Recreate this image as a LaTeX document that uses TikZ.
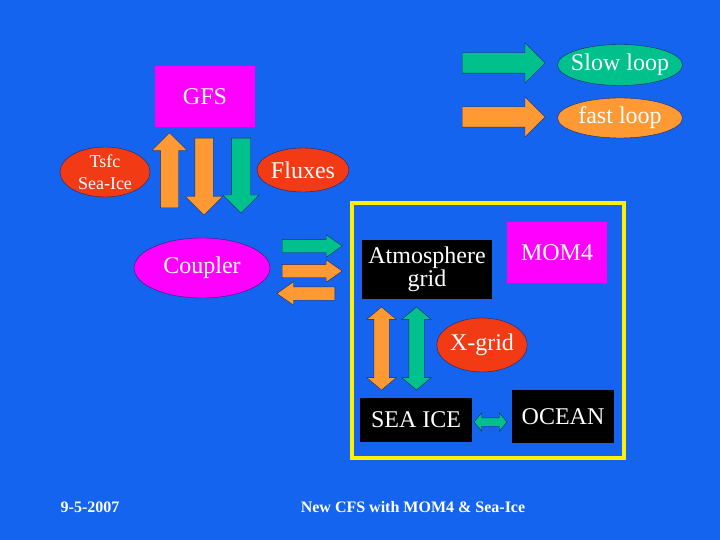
\documentclass[tikz,border=0pt]{standalone}
\usepackage{fontspec}
\setmainfont{Liberation Serif}
\usetikzlibrary{shapes.geometric,shapes.arrows}
\definecolor{Slide}{HTML}{1464F0}
\definecolor{Magenta}{HTML}{FF00FF}
\definecolor{Teal}{HTML}{00C08C}
\definecolor{Amber}{HTML}{FF9933}
\definecolor{Scarlet}{HTML}{F23A14}
\definecolor{Edge}{HTML}{1A2A60}

\begin{document}
\begin{tikzpicture}[x=1pt,y=-1pt,
  big/.style={font=\fontsize{24}{21}\selectfont},
  oval/.style={ellipse,draw=Edge,thin,inner sep=0pt,text=white,big},
  pinkbox/.style={fill=Magenta,text=white,inner sep=0pt,big},
  darkbox/.style={fill=black,text=white,inner sep=0pt,align=center,big},
  blockarrow/.style={single arrow,draw=Edge,thin,inner xsep=0pt,minimum width=0pt,single arrow head indent=0pt,anchor=tail},
  twinarrow/.style={double arrow,draw=Edge,thin,inner xsep=0pt,minimum width=0pt,double arrow head indent=0pt,double arrow tip angle=100},
  dims/.style n args={3}{minimum height=#1,inner ysep=#2,single arrow head extend=#3},
  twindims/.style n args={3}{minimum height=#1,inner ysep=#2,double arrow head extend=#3}
]
\fill[Slide] (0,0) rectangle (720,540);
\useasboundingbox (0,0) rectangle (720,540);

% legend
\node[blockarrow,fill=Teal,dims={83pt}{10pt}{10pt}] (legslow) at (462,63) {};
\node[blockarrow,fill=Amber,dims={83pt}{10pt}{10pt}] (legfast) at (462,117) {};
\node[oval,fill=Teal,inner xsep=-14pt,inner ysep=-4pt,minimum width=125pt,minimum height=41pt] (slow) at (620,65) {Slow loop};
\node[oval,fill=Amber,inner xsep=-14pt,inner ysep=-4pt,minimum width=125pt,minimum height=40pt] (fast) at (620,118) {fast loop};

% GFS and coupler
\node[pinkbox,minimum width=100pt,minimum height=61pt] (gfs) at (205,97) {GFS};
\node[oval,fill=Scarlet,minimum width=90pt,minimum height=50pt,align=center,font=\fontsize{18}{22}\selectfont] (tsfc) at (105,172) {Tsfc\\Sea-Ice};
\node[oval,fill=Scarlet,minimum width=92pt,minimum height=44pt] (fluxes) at (303,170) {Fluxes};
\node[blockarrow,fill=Amber,rotate=90,dims={75pt}{9pt}{8.5pt}] (upfast) at (169.5,208) {};
\node[blockarrow,fill=Amber,rotate=-90,dims={77pt}{9pt}{9.5pt}] (downfast) at (204,138) {};
\node[blockarrow,fill=Teal,rotate=-90,dims={75pt}{9.5pt}{8.5pt}] (downslow) at (241,138) {};
\node[oval,fill=Magenta,minimum width=136pt,minimum height=60pt] (coupler) at (202,268) {Coupler};

\node[blockarrow,fill=Teal,single arrow tip angle=70,dims={60pt}{6.5pt}{4.5pt}] (cslow) at (282,246) {};
\node[blockarrow,fill=Amber,single arrow tip angle=70,dims={60pt}{6.5pt}{4.5pt}] (cfast) at (282,271) {};
\node[blockarrow,fill=Amber,rotate=180,single arrow tip angle=70,dims={58pt}{6.5pt}{5pt}] (cback) at (335,293.5) {};

% MOM4 side
\draw[yellow,line width=4pt] (352,203) rectangle (624,458);
\node[darkbox,minimum width=130pt,minimum height=59pt] (atmos) at (427,269.5) {Atmosphere\\grid};
\node[pinkbox,minimum width=100pt,minimum height=61pt] (mom) at (557,252.5) {MOM4};
\node[oval,fill=Scarlet,minimum width=90pt,minimum height=54pt] (xgrid) at (482,345) {X-grid};
\node[twinarrow,fill=Amber,rotate=90,twindims={83pt}{7.5pt}{7pt}] (vfast) at (381.5,348.5) {};
\node[twinarrow,fill=Teal,rotate=90,twindims={83pt}{7.5pt}{7pt}] (vslow) at (416.5,348.5) {};
\node[darkbox,minimum width=112pt,minimum height=44pt] (seaice) at (416,420) {SEA ICE};
\node[darkbox,minimum width=102pt,minimum height=53pt] (ocean) at (563,416.5) {OCEAN};
\node[twinarrow,fill=Teal,twindims={33pt}{4pt}{5pt}] (hslow) at (490.5,422) {};

% footer
\node[text=white,font=\fontsize{16}{18}\selectfont\bfseries] (date) at (90,507) {9-5-2007};
\node[text=white,font=\fontsize{16}{18}\selectfont\bfseries] (title) at (413,507) {New CFS with MOM4 \& Sea-Ice};
\end{tikzpicture}
\end{document}
